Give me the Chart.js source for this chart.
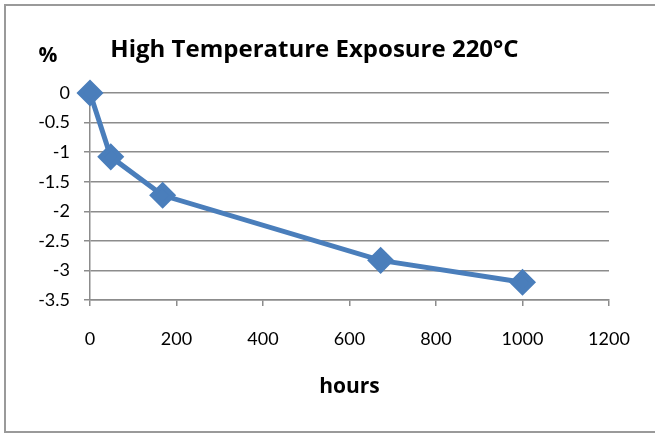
<!DOCTYPE html>
<html>
<head>
<meta charset="utf-8">
<script src="https://cdn.jsdelivr.net/npm/chart.js@4"></script>
<style>
  html, body { margin: 0; padding: 0; background: #fff; }
  #wrap { width: 655px; height: 437px; position: relative; }
</style>
</head>
<body>
<div id="wrap"><canvas id="chart" width="655" height="437"></canvas></div>
<script>
// data
const hours = [0, 48, 168, 672, 1000];
const change = [0, -1.08, -1.73, -2.83, -3.2];
const xTicks = [0, 200, 400, 600, 800, 1000, 1200];
const yTicks = [0, -0.5, -1, -1.5, -2, -2.5, -3, -3.5];

const gridGray = "#8c8c8c";
const lineBlue = "#4a7ebb";
const tickFont = "Lato, 'Open Sans', sans-serif";
const boldFont = "'Open Sans', Lato, sans-serif";

// outer frame + the "%" label next to the y axis
const frame = {
    id: "frame",
    beforeDraw: function (chart) {
        const ctx = chart.ctx;
        ctx.save();
        ctx.fillStyle = "#fff";
        ctx.fillRect(0, 0, chart.width, chart.height);
        ctx.strokeStyle = "#9a9a9a";
        ctx.lineWidth = 2;
        ctx.strokeRect(5, 5, chart.width + 10, chart.height - 10);
        ctx.restore();
    },
    afterDraw: function (chart) {
        const ctx = chart.ctx;
        ctx.save();
        ctx.font = "bold 21px " + boldFont;
        ctx.fillStyle = "#000";
        ctx.textAlign = "center";
        ctx.textBaseline = "middle";
        ctx.fillText("%", 48, 56);
        ctx.restore();
    }
};

const data = {
    datasets: [{
        label: "220°C",
        data: hours.map((h, i) => ({ x: h, y: change[i] })),
        borderColor: lineBlue,
        backgroundColor: lineBlue,
        borderWidth: 5,
        pointStyle: "rectRot",
        pointRadius: 10,
        pointHoverRadius: 10,
        tension: 0,
        clip: false
    }]
};

const config = {
    type: "line",
    data: data,
    plugins: [frame],
    options: {
        responsive: false,
        animation: false,
        layout: { padding: { left: 20, right: 46, top: 0, bottom: 30 } },
        plugins: {
            legend: { display: false },
            tooltip: { enabled: false },
            title: {
                display: true,
                text: "High Temperature Exposure 220°C",
                color: "#000",
                font: { family: boldFont, size: 24, weight: "bold", lineHeight: 1.2 },
                padding: { top: 35.6, bottom: 28.6 }
            }
        },
        scales: {
            x: {
                type: "linear",
                min: 0,
                max: 1200,
                afterBuildTicks: function (scale) {
                    scale.ticks = xTicks.map(v => ({ value: v }));
                },
                afterFit: function (scale) {
                    scale.height = 107;
                },
                ticks: {
                    color: "#000",
                    font: { family: tickFont, size: 18 },
                    padding: 22,
                    maxRotation: 0,
                    callback: v => String(v)
                },
                grid: {
                    drawOnChartArea: false,
                    drawTicks: true,
                    tickLength: 6,
                    color: gridGray,
                    lineWidth: 1.5
                },
                border: { color: gridGray, width: 1.5 },
                title: {
                    display: true,
                    text: "hours",
                    color: "#000",
                    font: { family: boldFont, size: 21, weight: "bold", lineHeight: 1.2 },
                    padding: { top: 0, bottom: 7 }
                }
            },
            y: {
                min: -3.5,
                max: 0,
                afterBuildTicks: function (scale) {
                    scale.ticks = yTicks.map(v => ({ value: v }));
                },
                afterFit: function (scale) {
                    scale.width = 70;
                },
                ticks: {
                    color: "#000",
                    font: { family: tickFont, size: 18 },
                    padding: 14,
                    callback: v => String(v)
                },
                grid: {
                    color: gridGray,
                    lineWidth: 1.5,
                    tickLength: 6
                },
                border: { color: gridGray, width: 1.5 }
            }
        }
    }
};

const myChart = new Chart(document.getElementById("chart"), config);
</script>
</body>
</html>
